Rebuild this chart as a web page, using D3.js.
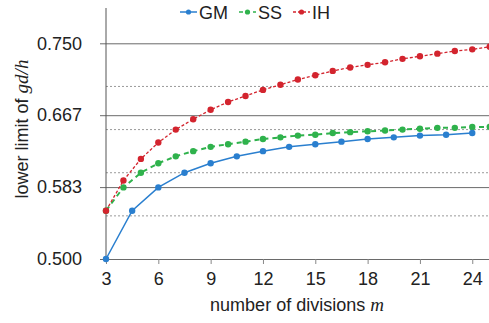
<!DOCTYPE html>
<html>
<head>
<meta charset="utf-8">
<script src="https://cdn.jsdelivr.net/npm/d3@7"></script>
<style>
	body { margin: 0; background: #fff; }
	svg text { font-family: "Liberation Sans", Arial, sans-serif; fill: #222; }
	.math { font-family: "Liberation Serif", "DejaVu Serif", serif; font-style: italic; }
</style>
</head>
<body>
<svg id="svg" width="489" height="323"></svg>
<script>
// values
var mGM = [3, 4.5, 6, 7.5, 9, 10.5, 12, 13.5, 15, 16.5, 18, 19.5, 21, 22.5, 24];
var valGM = [0.500, 0.556, 0.583, 0.600, 0.611, 0.619, 0.625, 0.630, 0.633, 0.636, 0.639, 0.641, 0.643, 0.644, 0.646];

var mSS = [3, 4, 5, 6, 7, 8, 9, 10, 11, 12, 13, 14, 15, 16, 17, 18, 19, 20, 21, 22, 23, 24, 25];
var valSS = [0.556, 0.583, 0.600, 0.611, 0.619, 0.625, 0.630, 0.633, 0.636, 0.639, 0.641, 0.643, 0.644, 0.646, 0.647,
	0.648, 0.649, 0.650, 0.651, 0.652, 0.652, 0.653, 0.653];

var mIH = [3, 4, 5, 6, 7, 8, 9, 10, 11, 12, 13, 14, 15, 16, 17, 18, 19, 20, 21, 22, 23, 24, 25];
var valIH = [0.556, 0.591, 0.616, 0.635, 0.650, 0.662, 0.673, 0.682, 0.689, 0.696, 0.702, 0.708, 0.713, 0.718, 0.722,
	0.725, 0.728, 0.732, 0.735, 0.738, 0.741, 0.743, 0.746];

var xTicks = [3, 6, 9, 12, 15, 18, 21, 24];
var yTicks = [0.5, 7 / 12, 8 / 12, 0.75];
var yTickLabels = ["0.500", "0.583", "0.667", "0.750"];
var yMinor = [0.55, 0.60, 0.65, 0.70];

var seriesNames = ["GM", "SS", "IH"];
var colors = {GM: "#2a7fcf", SS: "#2fb24c", IH: "#d3242e"};

var svg = d3.select("#svg");
var x = d3.scaleLinear().domain([3, 25]).range([106, 489.7]);
var y = d3.scaleLinear().domain([0.5, 0.75]).range([259, 43.3]);
var right = 489;

// dotted minor grid
svg.append("g").selectAll("line").data(yMinor).enter().append("line")
	.attr("x1", x(3)).attr("x2", right)
	.attr("y1", function(d){ return y(d); }).attr("y2", function(d){ return y(d); })
	.attr("stroke", "#9a9a9a").attr("stroke-width", 1).attr("stroke-dasharray", "2,2");

// y axis with full width tick lines
var yAxis = d3.axisLeft(y).tickValues(yTicks)
	.tickFormat(function(d, i){ return yTickLabels[i]; })
	.tickSize(-(right - x(3))).tickPadding(0);
var gy = svg.append("g").attr("transform", "translate(" + x(3) + ",0)").call(yAxis);
gy.select(".domain").remove();
gy.selectAll(".tick line").attr("stroke", "#6a6a6a").attr("x1", -6);
gy.selectAll(".tick text").attr("x", -24).attr("font-size", 18).attr("fill", "#222")
	.style("font-family", "Liberation Sans, Arial, sans-serif");

// y axis line
svg.append("line").attr("x1", x(3)).attr("x2", x(3)).attr("y1", 8).attr("y2", y(0.5))
	.attr("stroke", "#555").attr("stroke-width", 1);

// x axis
var xAxis = d3.axisBottom(x).tickValues(xTicks).tickSize(5).tickPadding(8);
var gx = svg.append("g").attr("transform", "translate(0," + y(0.5) + ")").call(xAxis);
gx.select(".domain").remove();
gx.selectAll(".tick line").attr("stroke", "#888");
gx.selectAll(".tick text").attr("font-size", 18).attr("fill", "#222")
	.style("font-family", "Liberation Sans, Arial, sans-serif");

// data
var clip = svg.append("clipPath").attr("id", "clip").append("rect")
	.attr("x", 95).attr("y", 0).attr("width", right - 95).attr("height", 323);

var plot = svg.append("g").attr("clip-path", "url(#clip)");

function drawSeries(name, ms, vals, width, dash){
	var pts = ms.map(function(m, i){ return [m, vals[i]]; });
	var line = d3.line().x(function(d){ return x(d[0]); }).y(function(d){ return y(d[1]); });
	plot.append("path").datum(pts).attr("d", line)
		.attr("fill", "none").attr("stroke", colors[name]).attr("stroke-width", width)
		.attr("stroke-dasharray", dash);
	plot.append("g").selectAll("circle").data(pts).enter().append("circle")
		.attr("cx", function(d){ return x(d[0]); }).attr("cy", function(d){ return y(d[1]); })
		.attr("r", 3.2).attr("fill", colors[name]);
}

drawSeries("SS", mSS, valSS, 2, "5,4");
drawSeries("GM", mGM, valGM, 1.5, null);
drawSeries("IH", mIH, valIH, 1.3, "3,2");

// legend
var legendItems = [
	{name: "GM", x0: 180, dash: null, w: 1.5},
	{name: "SS", x0: 239, dash: "4,3", w: 1.5},
	{name: "IH", x0: 293, dash: "3,2", w: 1.3}
];
var lg = svg.append("g");
legendItems.forEach(function(item){
	lg.append("line").attr("x1", item.x0).attr("x2", item.x0 + 17).attr("y1", 12).attr("y2", 12)
		.attr("stroke", colors[item.name]).attr("stroke-width", item.w).attr("stroke-dasharray", item.dash);
	lg.append("circle").attr("cx", item.x0 + 8.5).attr("cy", 12).attr("r", 2.6).attr("fill", colors[item.name]);
	lg.append("text").attr("x", item.x0 + 19).attr("y", 18.5).attr("font-size", 18).text(item.name);
});

// axis titles
var xt = svg.append("text").attr("x", 297).attr("y", 311).attr("text-anchor", "middle").attr("font-size", 18);
xt.append("tspan").text("number of divisions ");
xt.append("tspan").attr("class", "math").attr("font-size", 19).text("m");

var yt = svg.append("text").attr("transform", "translate(28,129) rotate(-90)")
	.attr("text-anchor", "middle").attr("font-size", 18);
yt.append("tspan").text("lower limit of ");
yt.append("tspan").attr("class", "math").attr("font-size", 19).text("gd/h");
</script>
</body>
</html>
